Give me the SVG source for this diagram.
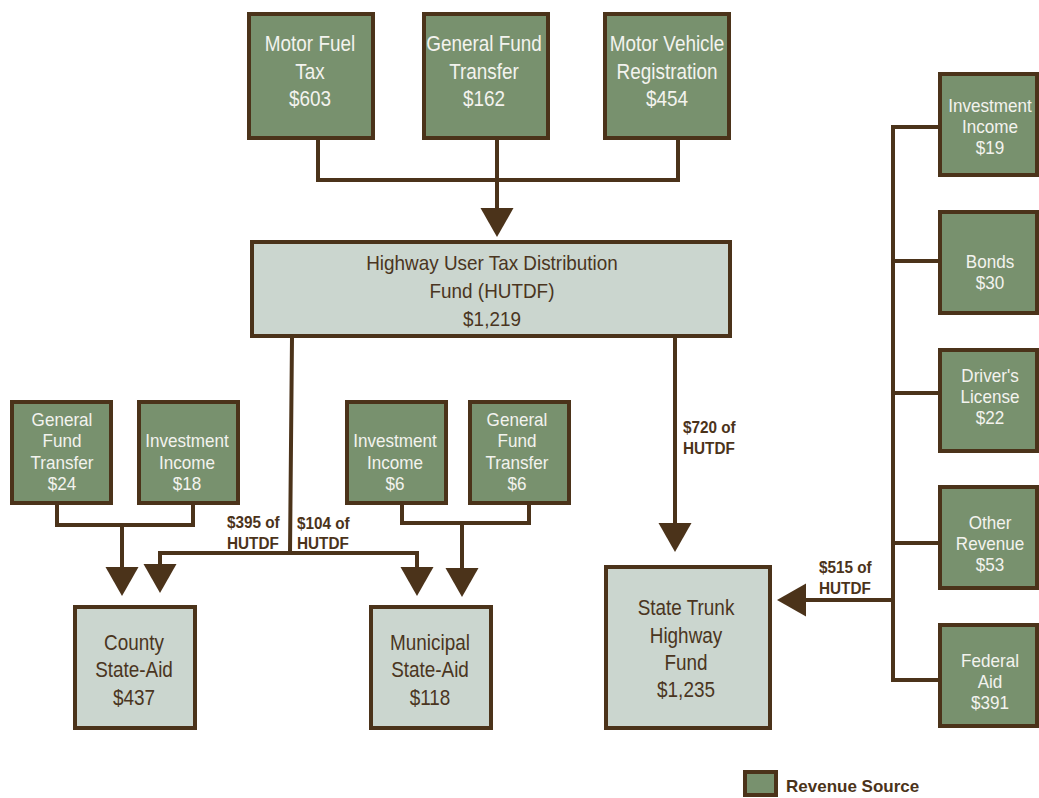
<svg xmlns="http://www.w3.org/2000/svg" xmlns:xlink="http://www.w3.org/1999/xlink" width="1039" height="798" viewBox="0 0 1039 798">
  <style>
    .src { fill: #78916e; stroke: #4b331a; stroke-width: 4; }
    .fund { fill: #cbd6cf; stroke: #4b331a; stroke-width: 4; }
    .wire { fill: none; stroke: #4b331a; stroke-width: 4; stroke-linejoin: miter; stroke-linecap: butt; }
    .head { fill: #4b331a; }
    text { font-family: "Liberation Sans", Arial, sans-serif; text-anchor: middle; }
    .big { font-size: 22px; }
    .mid { font-size: 18px; }
    .lt { fill: #f3f3ee; }
    .dk { fill: #4a3521; }
    .lbl { font-size: 17px; font-weight: bold; fill: #4b331a; text-anchor: start; }
  </style>
  <defs>
    <!-- downward arrowhead, tip at the origin -->
    <path id="ah" class="head" d="M-16.5,-29 L16.5,-29 L0,0 Z"/>
  </defs>

  <g id="connectors">
    <!-- sources into HUTDF -->
    <path class="wire" d="M318,140 V180 H678 V140"/>
    <path class="wire" d="M497,140 V208"/>
    <use xlink:href="#ah" x="497" y="237"/>
    <!-- HUTDF to county and municipal -->
    <path class="wire" d="M292,338 L290,553 H160 V566"/>
    <path class="wire" d="M290,553 H417 V568"/>
    <use xlink:href="#ah" x="160" y="593"/>
    <use xlink:href="#ah" x="417" y="596"/>
    <!-- HUTDF to state trunk -->
    <path class="wire" d="M675,338 V524"/>
    <use xlink:href="#ah" x="675" y="552"/>
    <!-- county sources -->
    <path class="wire" d="M57,505 V525 H193 V505"/>
    <path class="wire" d="M122,525 V568"/>
    <use xlink:href="#ah" x="122" y="596"/>
    <!-- municipal sources -->
    <path class="wire" d="M402,505 V523 H529 V505"/>
    <path class="wire" d="M462,523 V569"/>
    <use xlink:href="#ah" x="462" y="597"/>
    <!-- state trunk sources -->
    <path class="wire" d="M938,127 H893 V680 H938"/>
    <path class="wire" d="M893,261 H938 M893,393 H938 M893,543 H938"/>
    <path class="wire" d="M893,600 H804"/>
    <use xlink:href="#ah" transform="translate(777 600) rotate(90)"/>
    <!-- flow labels -->
    <text class="lbl" transform="translate(227 0) scale(0.9 1)"><tspan x="0" y="528">$395 of</tspan><tspan x="0" y="549">HUTDF</tspan></text>
    <text class="lbl" transform="translate(297 0) scale(0.9 1)"><tspan x="0" y="529">$104 of</tspan><tspan x="0" y="549">HUTDF</tspan></text>
    <text class="lbl" transform="translate(683 0) scale(0.9 1)"><tspan x="0" y="433">$720 of</tspan><tspan x="0" y="454">HUTDF</tspan></text>
    <text class="lbl" transform="translate(819 0) scale(0.9 1)"><tspan x="0" y="573">$515 of</tspan><tspan x="0" y="594">HUTDF</tspan></text>
  </g>

  <g id="motor-fuel-tax">
    <rect class="src" x="249" y="14" width="124" height="124"/>
    <text class="big lt" transform="translate(310 0) scale(0.86 1)"><tspan x="0" y="51">Motor Fuel</tspan><tspan x="0" y="79">Tax</tspan><tspan x="0" y="106">$603</tspan></text>
  </g>
  <g id="general-fund-transfer">
    <rect class="src" x="424" y="14" width="124" height="124"/>
    <text class="big lt" transform="translate(484 0) scale(0.86 1)"><tspan x="0" y="51">General Fund</tspan><tspan x="0" y="79">Transfer</tspan><tspan x="0" y="106">$162</tspan></text>
  </g>
  <g id="motor-vehicle-registration">
    <rect class="src" x="605" y="14" width="124" height="124"/>
    <text class="big lt" transform="translate(667 0) scale(0.86 1)"><tspan x="0" y="51">Motor Vehicle</tspan><tspan x="0" y="79">Registration</tspan><tspan x="0" y="106">$454</tspan></text>
  </g>

  <g id="hutdf">
    <rect class="fund" x="252" y="242" width="478" height="94"/>
    <text class="big dk" style="font-size:21px" transform="translate(492 0) scale(0.9 1)"><tspan x="0" y="270">Highway User Tax Distribution</tspan><tspan x="0" y="298">Fund (HUTDF)</tspan><tspan x="0" y="326">$1,219</tspan></text>
  </g>

  <g id="county-general-fund">
    <rect class="src" x="12" y="402" width="99" height="101"/>
    <text class="mid lt" transform="translate(62 0) scale(0.95 1)"><tspan x="0" y="426">General</tspan><tspan x="0" y="447">Fund</tspan><tspan x="0" y="469">Transfer</tspan><tspan x="0" y="490">$24</tspan></text>
  </g>
  <g id="county-investment">
    <rect class="src" x="139" y="402" width="99" height="101"/>
    <text class="mid lt" transform="translate(187 0) scale(0.95 1)"><tspan x="0" y="447">Investment</tspan><tspan x="0" y="469">Income</tspan><tspan x="0" y="490">$18</tspan></text>
  </g>
  <g id="municipal-investment">
    <rect class="src" x="347" y="402" width="99" height="101"/>
    <text class="mid lt" transform="translate(395 0) scale(0.95 1)"><tspan x="0" y="447">Investment</tspan><tspan x="0" y="469">Income</tspan><tspan x="0" y="490">$6</tspan></text>
  </g>
  <g id="municipal-general-fund">
    <rect class="src" x="470" y="402" width="99" height="101"/>
    <text class="mid lt" transform="translate(517 0) scale(0.95 1)"><tspan x="0" y="426">General</tspan><tspan x="0" y="447">Fund</tspan><tspan x="0" y="469">Transfer</tspan><tspan x="0" y="490">$6</tspan></text>
  </g>

  <g id="county-state-aid">
    <rect class="fund" x="75" y="607" width="120" height="121"/>
    <text class="big dk" transform="translate(134 0) scale(0.86 1)"><tspan x="0" y="650">County</tspan><tspan x="0" y="677">State-Aid</tspan><tspan x="0" y="705">$437</tspan></text>
  </g>
  <g id="municipal-state-aid">
    <rect class="fund" x="371" y="607" width="120" height="121"/>
    <text class="big dk" transform="translate(430 0) scale(0.86 1)"><tspan x="0" y="650">Municipal</tspan><tspan x="0" y="677">State-Aid</tspan><tspan x="0" y="705">$118</tspan></text>
  </g>
  <g id="state-trunk-highway-fund">
    <rect class="fund" x="606" y="567" width="164" height="161"/>
    <text class="big dk" transform="translate(686 0) scale(0.86 1)"><tspan x="0" y="615">State Trunk</tspan><tspan x="0" y="643">Highway</tspan><tspan x="0" y="670">Fund</tspan><tspan x="0" y="697">$1,235</tspan></text>
  </g>

  <g id="trunk-investment">
    <rect class="src" x="940" y="74" width="97" height="101"/>
    <text class="mid lt" transform="translate(990 0) scale(0.95 1)"><tspan x="0" y="112">Investment</tspan><tspan x="0" y="133">Income</tspan><tspan x="0" y="154">$19</tspan></text>
  </g>
  <g id="bonds">
    <rect class="src" x="940" y="212" width="97" height="101"/>
    <text class="mid lt" transform="translate(990 0) scale(0.95 1)"><tspan x="0" y="268">Bonds</tspan><tspan x="0" y="289">$30</tspan></text>
  </g>
  <g id="drivers-license">
    <rect class="src" x="940" y="350" width="97" height="101"/>
    <text class="mid lt" transform="translate(990 0) scale(0.95 1)"><tspan x="0" y="382">Driver's</tspan><tspan x="0" y="403">License</tspan><tspan x="0" y="424">$22</tspan></text>
  </g>
  <g id="other-revenue">
    <rect class="src" x="940" y="487" width="97" height="101"/>
    <text class="mid lt" transform="translate(990 0) scale(0.95 1)"><tspan x="0" y="529">Other</tspan><tspan x="0" y="550">Revenue</tspan><tspan x="0" y="571">$53</tspan></text>
  </g>
  <g id="federal-aid">
    <rect class="src" x="940" y="625" width="97" height="101"/>
    <text class="mid lt" transform="translate(990 0) scale(0.95 1)"><tspan x="0" y="667">Federal</tspan><tspan x="0" y="688">Aid</tspan><tspan x="0" y="709">$391</tspan></text>
  </g>

  <g id="legend">
    <rect class="src" x="745" y="772" width="31" height="23"/>
    <text class="lbl" x="786" y="792">Revenue Source</text>
  </g>
</svg>
